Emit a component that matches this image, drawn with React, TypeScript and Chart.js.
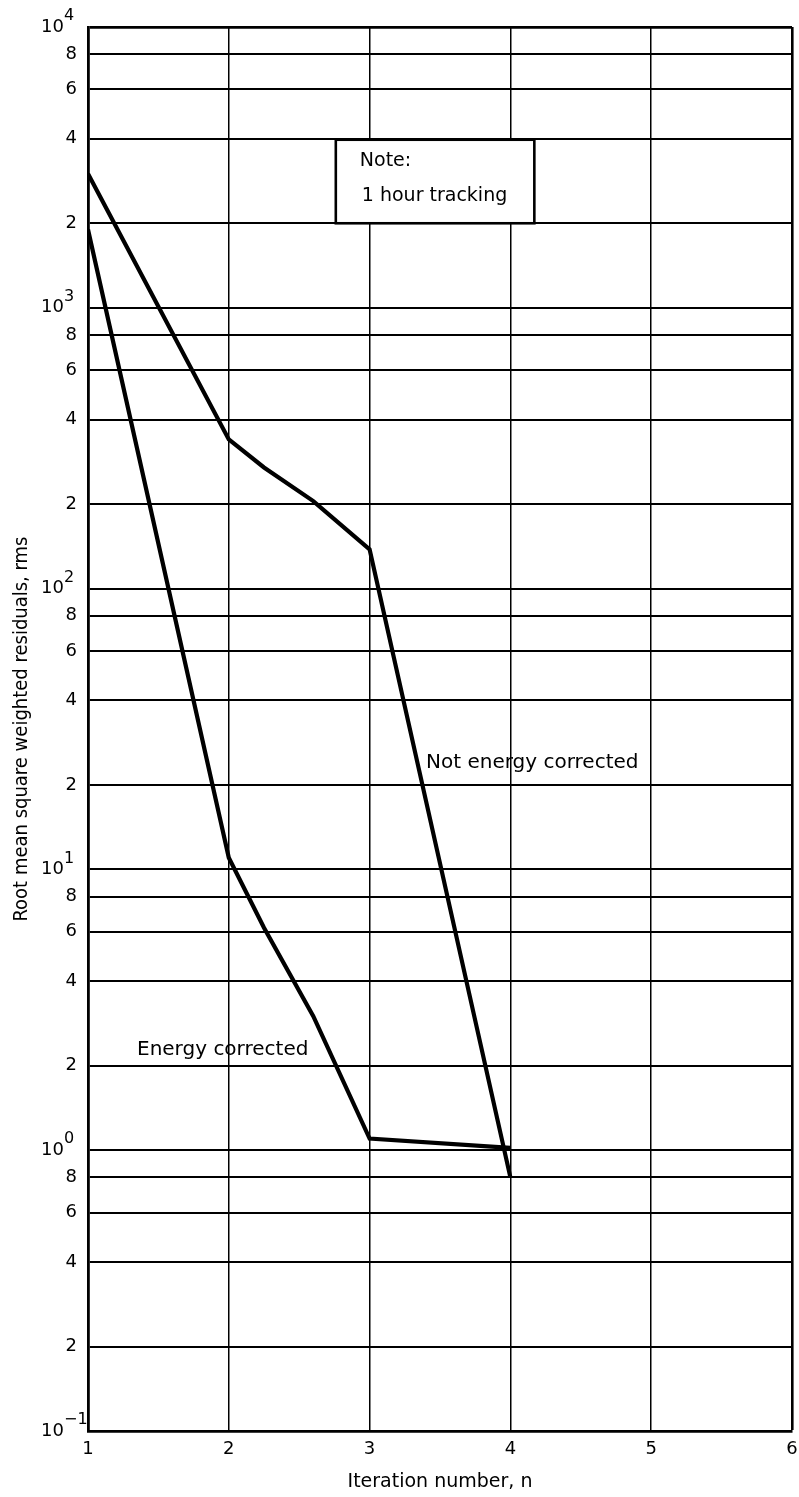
import { useEffect, useRef } from "react";
import { Chart, registerables } from "chart.js";

Chart.register(...registerables);

// Iteration number n and rms residuals for the two runs
const notCorrectedIter = [1, 2, 2.25, 2.6, 3, 4];
const notCorrectedRms = [3000, 340, 270, 205, 138, 0.8];
const correctedIter = [1, 2, 2.25, 2.6, 3, 4];
const correctedRms = [1900, 11, 6.2, 3.0, 1.1, 1.02];

// Log grid lines (1, 2, 4, 6, 8 per decade)
const yGridValues = [
  0.1, 0.2, 0.4, 0.6, 0.8,
  1, 2, 4, 6, 8,
  10, 20, 40, 60, 80,
  100, 200, 400, 600, 800,
  1000, 2000, 4000, 6000, 8000,
  10000,
];
const xTicks = [1, 2, 3, 4, 5, 6];

const noteLines = ["Note:", "1 hour tracking"];
const seriesLabels = ["Not energy corrected", "Energy corrected"];
const yTitle = "Root mean square weighted residuals, rms";
const xTitle = "Iteration number, n";

const FONT = "'DejaVu Sans', 'Open Sans', sans-serif";

const labelPlugin = {
  id: "paperLabels",
  afterDraw(chart: any) {
    const { ctx, scales } = chart;
    const y = scales.y;
    const x = scales.x;
    ctx.save();
    ctx.fillStyle = "#000";

    // y tick labels: mantissa digits, decades as 10 with an exponent
    for (const v of yGridValues) {
      const py = y.getPixelForValue(v);
      const exp = Math.floor(Math.log10(v) + 1e-9);
      const mant = Math.round(v / Math.pow(10, exp));
      ctx.textBaseline = "middle";
      if (mant === 1) {
        ctx.font = `18px ${FONT}`;
        ctx.textAlign = "right";
        ctx.fillText("10", 64, py);
        ctx.font = `16px ${FONT}`;
        ctx.textAlign = "left";
        ctx.fillText(exp < 0 ? "\u2212" + String(-exp) : String(exp), 64, py - 11);
      } else {
        ctx.font = `18px ${FONT}`;
        ctx.textAlign = "right";
        ctx.fillText(String(mant), 77, py);
      }
    }

    // note box
    const bx0 = x.getPixelForValue(2.76);
    const bx1 = x.getPixelForValue(4.17);
    const by0 = y.getPixelForValue(4000) + 1;
    const by1 = y.getPixelForValue(2000);
    ctx.fillStyle = "#fff";
    ctx.fillRect(bx0, by0, bx1 - bx0, by1 - by0);
    ctx.strokeStyle = "#000";
    ctx.lineWidth = 2.6;
    ctx.strokeRect(bx0, by0, bx1 - bx0, by1 - by0);
    ctx.fillStyle = "#000";
    ctx.font = `19px ${FONT}`;
    ctx.textAlign = "left";
    ctx.textBaseline = "alphabetic";
    ctx.fillText(noteLines[0], bx0 + 24, by0 + 26);
    ctx.fillText(noteLines[1], bx0 + 26, by0 + 61);

    // series labels
    ctx.font = `20px ${FONT}`;
    ctx.fillText(seriesLabels[0], 426, 768);
    ctx.fillText(seriesLabels[1], 137, 1055);
    ctx.restore();
  },
};

export default function App() {
  const canvasRef = useRef<HTMLCanvasElement | null>(null);

  useEffect(() => {
    document.body.style.margin = "0";
    const canvas = canvasRef.current;
    if (!canvas) return;

    const toPoints = (xs: number[], ys: number[]) =>
      xs.map((v, i) => ({ x: v, y: ys[i] }));

    const chart = new Chart(canvas, {
      type: "line",
      data: {
        datasets: [
          {
            label: seriesLabels[0],
            data: toPoints(notCorrectedIter, notCorrectedRms),
            borderColor: "#000",
            borderWidth: 4.2,
            pointRadius: 0,
            tension: 0,
          },
          {
            label: seriesLabels[1],
            data: toPoints(correctedIter, correctedRms),
            borderColor: "#000",
            borderWidth: 4.2,
            pointRadius: 0,
            tension: 0,
          },
        ],
      },
      options: {
        animation: false,
        responsive: false,
        layout: { padding: { top: 27, right: 7, left: 0, bottom: 0 } },
        plugins: {
          legend: { display: false },
          tooltip: { enabled: false },
        },
        scales: {
          x: {
            type: "linear",
            min: 1,
            max: 6,
            afterBuildTicks: (scale: any) => {
              scale.ticks = xTicks.map((v) => ({ value: v }));
            },
            afterFit: (scale: any) => {
              scale.height = 66;
              scale.paddingRight = 0;
              scale.paddingLeft = 0;
            },
            ticks: {
              color: "#000",
              font: { family: FONT, size: 18 },
              padding: 8,
              maxRotation: 0,
              callback: (v: any) => String(v),
            },
            grid: {
              color: "#000",
              drawTicks: false,
              lineWidth: (c: any) => (c.tick && c.tick.value === 6 ? 2.6 : 1.5),
            },
            border: { color: "#000", width: 2.8 },
            title: {
              display: true,
              text: xTitle,
              color: "#000",
              font: { family: FONT, size: 19 },
              padding: { top: 0, bottom: 4 },
            },
          },
          y: {
            type: "logarithmic",
            min: 0.1,
            max: 10000,
            afterBuildTicks: (scale: any) => {
              scale.ticks = yGridValues.map((v) => ({ value: v }));
            },
            afterFit: (scale: any) => {
              scale.width = 88;
            },
            ticks: { display: false },
            grid: {
              color: "#000",
              drawTicks: false,
              lineWidth: (c: any) => (c.tick && c.tick.value === 10000 ? 2.8 : 1.9),
            },
            border: { color: "#000", width: 2.8 },
            title: {
              display: true,
              text: yTitle,
              color: "#000",
              font: { family: "'DejaVu Sans Condensed', 'DejaVu Sans', sans-serif", size: 20 },
              padding: { top: 10, bottom: 0 },
            },
          },
        },
      },
      plugins: [labelPlugin],
    });

    return () => chart.destroy();
  }, []);

  return (
    <div style={{ width: 799, height: 1497, background: "#fff" }}>
      <canvas ref={canvasRef} width={799} height={1497} style={{ display: "block" }} />
    </div>
  );
}
